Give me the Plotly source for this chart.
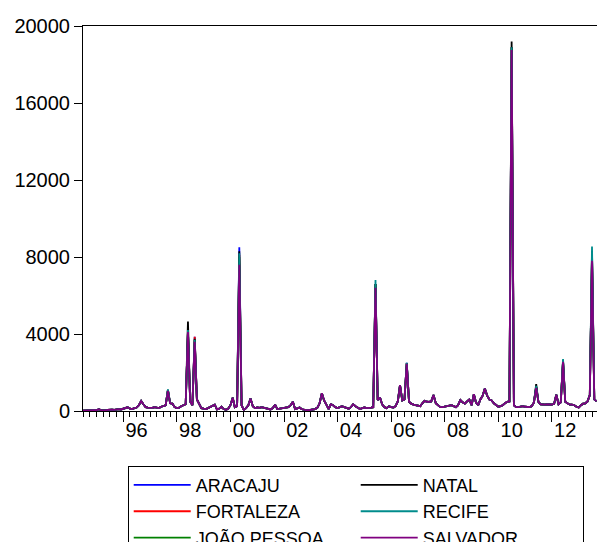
import pandas as pd
import plotly.graph_objects as go

start_month = "1994-07-01"
n_obs = 231

aracaju = [
    20, 30, 20, 40, 30, 50, 40, 90, 50, 40, 30, 60,
    80, 70, 60, 90, 100, 80, 120, 140, 190, 120, 100, 150,
    180, 300, 520, 350, 200, 180, 150, 160, 200, 170, 150, 220,
    260, 300, 1080, 400, 380, 200, 150, 180, 250, 300, 350, 4150,
    500, 300, 3850, 600, 330, 150, 120, 100, 150, 200, 250, 330,
    80, 120, 220, 100, 60, 120, 300, 690, 200, 250, 8500, 300,
    60, 150, 300, 650, 250, 150, 180, 160, 200, 170, 150, 120,
    80, 150, 330, 100, 120, 150, 160, 180, 200, 300, 480, 100,
    130, 180, 90, 60, 50, 40, 50, 60, 100, 180, 400, 920,
    550, 330, 100, 350, 300, 200, 150, 200, 250, 200, 150, 120,
    200, 350, 250, 180, 100, 150, 180, 150, 150, 180, 200, 6600,
    570, 700, 330, 200, 150, 250, 200, 180, 250, 500, 1350, 550,
    600, 2500, 480, 380, 330, 300, 280, 250, 400, 530, 480, 470,
    500, 830, 400, 300, 200, 200, 230, 250, 280, 300, 250, 200,
    300, 570, 450, 380, 500, 600, 300, 870, 450, 300, 600, 800,
    1170, 800, 600, 550, 400, 300, 220, 250, 300, 400, 480, 500,
    18900, 300, 200, 200, 230, 250, 220, 200, 200, 250, 450, 1250,
    480, 350, 330, 330, 350, 350, 330, 380, 850, 350, 450, 2600,
    480, 400, 330, 330, 300, 220, 180, 300, 380, 400, 500, 830,
    8100, 600, 500,
]
fortaleza = [
    20, 30, 20, 40, 30, 50, 40, 90, 50, 40, 30, 60,
    80, 70, 60, 90, 100, 80, 120, 140, 190, 120, 100, 150,
    180, 300, 520, 350, 200, 180, 150, 160, 200, 170, 150, 220,
    260, 300, 1080, 400, 380, 200, 150, 180, 250, 300, 350, 4150,
    500, 300, 3850, 600, 330, 150, 120, 100, 150, 200, 250, 330,
    80, 120, 220, 100, 60, 120, 300, 690, 200, 250, 8100, 300,
    60, 150, 300, 650, 250, 150, 180, 160, 200, 170, 150, 120,
    80, 150, 330, 100, 120, 150, 160, 180, 200, 300, 480, 100,
    130, 180, 90, 60, 50, 40, 50, 60, 100, 180, 400, 920,
    550, 330, 100, 350, 300, 200, 150, 200, 250, 200, 150, 120,
    200, 350, 250, 180, 100, 150, 180, 150, 150, 180, 200, 6600,
    570, 700, 330, 200, 150, 250, 200, 180, 250, 500, 1350, 550,
    600, 2480, 480, 380, 330, 300, 280, 250, 400, 530, 480, 470,
    500, 830, 400, 300, 200, 200, 230, 250, 280, 300, 250, 200,
    300, 570, 450, 380, 500, 600, 300, 870, 450, 300, 600, 800,
    1170, 800, 600, 550, 400, 300, 220, 250, 300, 400, 480, 500,
    18900, 300, 200, 200, 230, 250, 220, 200, 200, 250, 450, 1250,
    480, 350, 330, 330, 350, 350, 330, 380, 850, 350, 450, 2600,
    480, 400, 330, 330, 300, 220, 180, 300, 380, 400, 500, 830,
    8100, 600, 500,
]
joao_pessoa = [
    20, 30, 20, 40, 30, 50, 40, 90, 50, 40, 30, 60,
    80, 70, 60, 90, 100, 80, 120, 140, 190, 120, 100, 150,
    180, 300, 520, 350, 200, 180, 150, 160, 200, 170, 150, 220,
    260, 300, 1080, 400, 380, 200, 150, 180, 250, 300, 350, 4150,
    500, 300, 3700, 600, 330, 150, 120, 100, 150, 200, 250, 330,
    80, 120, 220, 100, 60, 120, 300, 690, 200, 250, 8000, 300,
    60, 150, 300, 650, 250, 150, 180, 160, 200, 170, 150, 120,
    80, 150, 330, 100, 120, 150, 160, 180, 200, 300, 480, 100,
    130, 180, 90, 60, 50, 40, 50, 60, 100, 180, 400, 920,
    550, 330, 100, 350, 300, 200, 150, 200, 250, 200, 150, 120,
    200, 350, 250, 180, 100, 150, 180, 150, 150, 180, 200, 6600,
    570, 700, 330, 200, 150, 250, 200, 180, 250, 500, 1350, 550,
    600, 2480, 480, 380, 330, 300, 280, 250, 400, 530, 480, 470,
    500, 830, 400, 300, 200, 200, 230, 250, 280, 300, 250, 200,
    300, 570, 450, 380, 500, 600, 300, 870, 450, 300, 600, 800,
    1170, 800, 600, 550, 400, 300, 220, 250, 300, 400, 480, 500,
    18900, 300, 200, 200, 230, 250, 220, 200, 200, 250, 450, 1250,
    480, 350, 330, 330, 350, 350, 330, 380, 850, 350, 450, 2600,
    480, 400, 330, 330, 300, 220, 180, 300, 380, 400, 500, 830,
    8100, 600, 500,
]
natal = [
    20, 30, 20, 40, 30, 50, 40, 90, 50, 40, 30, 60,
    80, 70, 60, 90, 100, 80, 120, 140, 190, 120, 100, 150,
    180, 300, 520, 350, 200, 180, 150, 160, 200, 170, 150, 220,
    260, 300, 1100, 400, 380, 200, 150, 180, 250, 300, 350, 4650,
    500, 300, 3750, 600, 330, 150, 120, 100, 150, 200, 250, 330,
    80, 120, 220, 100, 60, 120, 300, 690, 200, 250, 8300, 300,
    60, 150, 300, 650, 250, 150, 180, 160, 200, 170, 150, 120,
    80, 150, 330, 100, 120, 150, 160, 180, 200, 300, 480, 100,
    130, 180, 90, 60, 50, 40, 50, 60, 100, 180, 400, 920,
    550, 330, 100, 350, 300, 200, 150, 200, 250, 200, 150, 120,
    200, 350, 250, 180, 100, 150, 180, 150, 150, 180, 200, 6600,
    570, 700, 330, 200, 150, 250, 200, 180, 250, 500, 1350, 550,
    600, 2480, 480, 380, 330, 300, 280, 250, 400, 530, 480, 470,
    500, 830, 400, 300, 200, 200, 230, 250, 280, 300, 250, 200,
    300, 570, 450, 380, 500, 600, 300, 870, 450, 300, 600, 800,
    1170, 800, 600, 550, 400, 300, 220, 250, 300, 400, 480, 500,
    19200, 300, 200, 200, 230, 250, 220, 200, 200, 250, 450, 1400,
    480, 350, 330, 330, 350, 350, 330, 380, 850, 350, 450, 2650,
    480, 400, 330, 330, 300, 220, 180, 300, 380, 400, 500, 830,
    8300, 600, 500,
]
recife = [
    20, 30, 20, 40, 30, 50, 40, 90, 50, 40, 30, 60,
    80, 70, 60, 90, 100, 80, 120, 140, 190, 120, 100, 150,
    180, 300, 520, 350, 200, 180, 150, 160, 200, 170, 150, 220,
    260, 300, 1120, 400, 380, 200, 150, 180, 250, 300, 350, 4200,
    500, 300, 3700, 600, 330, 150, 120, 100, 150, 200, 250, 330,
    80, 120, 220, 100, 60, 120, 300, 690, 200, 250, 8200, 300,
    60, 150, 300, 650, 250, 150, 180, 160, 200, 170, 150, 120,
    80, 150, 330, 100, 120, 150, 160, 180, 200, 300, 480, 100,
    130, 180, 90, 60, 50, 40, 50, 60, 100, 180, 400, 920,
    550, 330, 100, 350, 300, 200, 150, 200, 250, 200, 150, 120,
    200, 350, 250, 180, 100, 150, 180, 150, 150, 180, 200, 6800,
    570, 700, 330, 200, 150, 250, 200, 180, 250, 500, 1350, 550,
    600, 2500, 480, 380, 330, 300, 280, 250, 400, 530, 480, 470,
    500, 830, 400, 300, 200, 200, 230, 250, 280, 300, 250, 200,
    300, 570, 450, 380, 500, 600, 300, 870, 450, 300, 600, 800,
    1170, 800, 600, 550, 400, 300, 220, 250, 300, 400, 480, 500,
    18900, 300, 200, 200, 230, 250, 220, 200, 200, 250, 450, 1300,
    480, 350, 330, 330, 350, 350, 330, 380, 850, 350, 450, 2700,
    480, 400, 330, 330, 300, 220, 180, 300, 380, 400, 500, 830,
    8550, 600, 500,
]
salvador = [
    20, 30, 20, 40, 30, 50, 40, 90, 50, 40, 30, 60,
    80, 70, 60, 90, 100, 80, 120, 140, 190, 120, 100, 150,
    180, 300, 520, 350, 200, 180, 150, 160, 200, 170, 150, 220,
    260, 300, 1050, 400, 380, 200, 150, 180, 250, 300, 350, 4100,
    500, 300, 3600, 600, 330, 150, 120, 100, 150, 200, 250, 330,
    80, 120, 220, 100, 60, 120, 300, 690, 200, 250, 7600, 300,
    60, 150, 300, 650, 250, 150, 180, 160, 200, 170, 150, 120,
    80, 150, 330, 100, 120, 150, 160, 180, 200, 300, 480, 100,
    130, 180, 90, 60, 50, 40, 50, 60, 100, 180, 400, 920,
    550, 330, 100, 350, 300, 200, 150, 200, 250, 200, 150, 120,
    200, 350, 250, 180, 100, 150, 180, 150, 150, 180, 200, 6400,
    570, 700, 330, 200, 150, 250, 200, 180, 250, 500, 1350, 550,
    600, 2450, 480, 380, 330, 300, 280, 250, 400, 530, 480, 470,
    500, 830, 400, 300, 200, 200, 230, 250, 280, 300, 250, 200,
    300, 570, 450, 380, 500, 600, 300, 870, 450, 300, 600, 800,
    1170, 800, 600, 550, 400, 300, 220, 250, 300, 400, 480, 500,
    18750, 300, 200, 200, 230, 250, 220, 200, 200, 250, 450, 1200,
    480, 350, 330, 330, 350, 350, 330, 380, 850, 350, 450, 2550,
    480, 400, 330, 330, 300, 220, 180, 300, 380, 400, 500, 830,
    7800, 600, 500,
]

series_names = ["ARACAJU", "FORTALEZA", "JOÃO PESSOA", "NATAL", "RECIFE", "SALVADOR"]
series_values = [aracaju, fortaleza, joao_pessoa, natal, recife, salvador]
series_colors = ["#0000FF", "#FF0000", "#008000", "#000000", "#008C8C", "#800080"]
legend_ranks = [1, 3, 5, 2, 4, 6]

year_ticks = ["1996-07-01", "1998-07-01", "2000-07-01", "2002-07-01", "2004-07-01",
              "2006-07-01", "2008-07-01", "2010-07-01", "2012-07-01"]
year_labels = ["96", "98", "00", "02", "04", "06", "08", "10", "12"]
y_ticks = [0, 4000, 8000, 12000, 16000, 20000]

dates = pd.date_range(start_month, periods=n_obs, freq="MS")
x_range = ["1994-07-01", "2013-09-07"]

FONT = "Liberation Sans, Arial, sans-serif"

fig = go.Figure()
for name, vals, color, rank in zip(series_names, series_values, series_colors, legend_ranks):
    fig.add_trace(go.Scatter(
        x=dates, y=vals, mode="lines", name=name, legendrank=rank,
        line=dict(color=color, width=1.8),
    ))
# empty trace so that the label axis (x2) is drawn
fig.add_trace(go.Scatter(x=[], y=[], xaxis="x2", yaxis="y", showlegend=False,
                         hoverinfo="skip"))

fig.update_layout(
    width=597, height=542,
    margin=dict(l=83, r=0, t=26, b=131, autoexpand=False),
    paper_bgcolor="white", plot_bgcolor="white",
    font=dict(family=FONT, size=20, color="black"),
    showlegend=True,
    legend=dict(
        orientation="h", x=0.087, xanchor="left", y=-0.142, yanchor="top",
        bordercolor="black", borderwidth=1, bgcolor="white",
        font=dict(family=FONT, size=18, color="black"),
        itemwidth=57, entrywidth=155, entrywidthmode="pixels",
        traceorder="normal",
    ),
    xaxis=dict(
        type="date", range=x_range,
        showgrid=False, zeroline=False,
        showline=True, linecolor="black", linewidth=1, mirror=True,
        tickmode="linear", tick0="1996-01-01", dtick="M24",
        ticks="outside", ticklen=10, tickcolor="black", tickwidth=1,
        showticklabels=False,
        minor=dict(tick0="1994-07-01", dtick="M3", ticks="outside", ticklen=5,
                   tickcolor="black", tickwidth=1, showgrid=False),
    ),
    xaxis2=dict(
        type="date", range=x_range, overlaying="x", anchor="y", side="bottom",
        showgrid=False, zeroline=False, showline=False,
        tickmode="array", tickvals=year_ticks, ticktext=year_labels,
        ticks="outside", ticklen=1, tickcolor="rgba(0,0,0,0)",
        tickfont=dict(family=FONT, size=20, color="black"),
    ),
    yaxis=dict(
        range=[0, 20000], showgrid=False, zeroline=False,
        showline=True, linecolor="black", linewidth=1,
        tickmode="array", tickvals=y_ticks, ticktext=[str(v) for v in y_ticks],
        ticks="outside", ticklen=8, tickcolor="black",
        tickfont=dict(family=FONT, size=20, color="black"),
    ),
)

fig.write_html("out.html", config={"displayModeBar": False},
               post_script="document.body.style.margin='0px';")
